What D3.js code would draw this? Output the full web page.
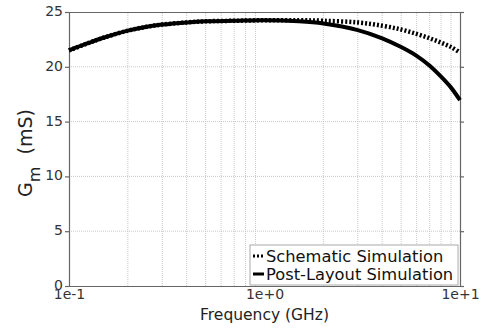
<!DOCTYPE html>
<html>
<head>
<meta charset="utf-8">
<script src="https://cdn.jsdelivr.net/npm/d3@7"></script>
<style>
  body { margin: 0; background: #fff; }
  text { font-family: "DejaVu Sans", sans-serif; }
</style>
</head>
<body>
<svg id="chart" width="485" height="328"></svg>
<script>
// frequencies in GHz
var freq = [0.1, 0.125, 0.15, 0.2, 0.25, 0.3, 0.4, 0.5, 0.7, 1, 1.5, 2, 3, 4, 5, 6, 7, 8, 9, 10];
// Gm in mS
var schematic = [21.5, 22.15, 22.65, 23.3, 23.65, 23.85, 24.05, 24.15, 24.2, 24.25, 24.25, 24.2, 24.05, 23.75, 23.4, 23.0, 22.6, 22.2, 21.8, 21.3];
var postLayout = [21.5, 22.15, 22.65, 23.3, 23.65, 23.85, 24.05, 24.15, 24.2, 24.25, 24.15, 23.95, 23.35, 22.6, 21.8, 21.0, 20.1, 19.1, 18.1, 16.95];
var yTicks = [0, 5, 10, 15, 20, 25];
var xTicks = [0.1, 1, 10];
var xTickLabels = ["1e-1", "1e+0", "1e+1"];
var seriesNames = ["Schematic Simulation", "Post-Layout Simulation"];

var margin = {left: 69, top: 12, right: 25, bottom: 42};
var W = 485, H = 328;
var svg = d3.select("#chart");

var x = d3.scaleLog().domain([0.1, 10]).range([margin.left, W - margin.right]);
var y = d3.scaleLinear().domain([0, 25]).range([H - margin.bottom, margin.top]);

// minor grid positions: 2..9 per decade
var gridX = [];
[0.1, 1].forEach(function(d) {
    for (var k = 2; k <= 9; k++) gridX.push(d * k);
});

var grid = svg.append("g");
grid.selectAll("line.vx")
    .data(gridX)
    .enter().append("line")
    .attr("x1", function(d) { return x(d); })
    .attr("x2", function(d) { return x(d); })
    .attr("y1", y(0)).attr("y2", y(25))
    .attr("stroke", "#c8c8c8").attr("stroke-width", 1)
    .attr("stroke-dasharray", "1,1");
grid.selectAll("line.hy")
    .data(yTicks.filter(function(d) { return d > 0 && d < 25; }))
    .enter().append("line")
    .attr("x1", x(0.1)).attr("x2", x(10))
    .attr("y1", function(d) { return y(d); })
    .attr("y2", function(d) { return y(d); })
    .attr("stroke", "#c8c8c8").attr("stroke-width", 1)
    .attr("stroke-dasharray", "1,1");

// axes
var axisColor = "#666";
var yAxis = svg.append("g")
    .attr("transform", "translate(" + x(0.1) + ",0)")
    .call(d3.axisLeft(y).tickValues(yTicks).tickSize(4).tickPadding(2));
var yAxisR = svg.append("g")
    .attr("transform", "translate(" + x(10) + ",0)")
    .call(d3.axisLeft(y).tickValues(yTicks).tickSize(-4).tickFormat(""));
var xAxis = svg.append("g")
    .attr("transform", "translate(0," + y(0) + ")")
    .call(d3.axisBottom(x).tickValues(xTicks).tickSize(0).tickPadding(5)
        .tickFormat(function(d, i) { return xTickLabels[i]; }));
var xAxisT = svg.append("g")
    .attr("transform", "translate(0," + y(25) + ")")
    .call(d3.axisTop(x).tickValues(xTicks).tickSize(0).tickFormat(""));

[yAxis, yAxisR, xAxis, xAxisT].forEach(function(a) {
    a.selectAll("path, line").attr("stroke", axisColor).attr("stroke-width", 1.2);
    a.selectAll("text").attr("fill", "#333").style("font-size", "14px")
        .style("font-family", "DejaVu Sans, sans-serif");
});
xAxis.selectAll("text").attr("dy", "0.55em");
yAxis.selectAll("text").attr("dy", "0.25em");

// lines
var line = d3.line()
    .x(function(d) { return x(d[0]); })
    .y(function(d) { return y(d[1]); })
    .curve(d3.curveCatmullRom.alpha(0.5));

svg.append("path")
    .datum(freq.map(function(f, i) { return [f, postLayout[i]]; }))
    .attr("d", line)
    .attr("fill", "none").attr("stroke", "#000").attr("stroke-width", 4);

svg.append("path")
    .datum(freq.map(function(f, i) { return [f, schematic[i]]; }))
    .attr("d", line)
    .attr("fill", "none").attr("stroke", "#000").attr("stroke-width", 4.5)
    .attr("stroke-dasharray", "2,2");

// legend
var lg = svg.append("g");
lg.append("rect")
    .attr("x", 250).attr("y", 245).attr("width", 208).attr("height", 40)
    .attr("fill", "#fff").attr("stroke", "#aaa").attr("stroke-width", 1);
lg.append("line")
    .attr("x1", 253).attr("x2", 263).attr("y1", 256).attr("y2", 256)
    .attr("stroke", "#000").attr("stroke-width", 3).attr("stroke-dasharray", "2,2");
lg.append("line")
    .attr("x1", 253).attr("x2", 264).attr("y1", 274).attr("y2", 274)
    .attr("stroke", "#000").attr("stroke-width", 3);
lg.selectAll("text")
    .data(seriesNames)
    .enter().append("text")
    .attr("x", 266)
    .attr("y", function(d, i) { return 256 + i * 18; })
    .attr("dy", "0.35em")
    .attr("fill", "#111")
    .style("font-size", "16.3px")
    .text(function(d) { return d; });

// axis titles
svg.append("text")
    .attr("x", (x(0.1) + x(10)) / 2).attr("y", 320)
    .attr("text-anchor", "middle")
    .attr("fill", "#222")
    .style("font-size", "15.5px")
    .text("Frequency (GHz)");

var yt = svg.append("text")
    .attr("transform", "translate(32," + (y(12.5) + 4) + ") rotate(-90)")
    .attr("text-anchor", "middle")
    .attr("fill", "#222")
    .style("font-size", "19px");
yt.append("tspan").text("G");
yt.append("tspan").attr("dy", 8).style("font-size", "16px").text("m");
yt.append("tspan").attr("dy", -8).text("\u00a0\u00a0(mS)");
</script>
</body>
</html>
